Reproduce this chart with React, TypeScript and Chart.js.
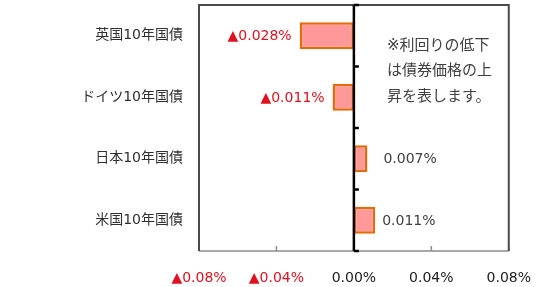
import React, { useEffect, useRef } from "react";
import { Chart, registerables } from "chart.js";

Chart.register(...registerables);

const categories = ["英国10年国債", "ドイツ10年国債", "日本10年国債", "米国10年国債"];
const changes = [-0.028, -0.011, 0.007, 0.011];
const xTicks = [-0.08, -0.04, 0, 0.04, 0.08];
const noteLines = ["※利回りの低下", "は債券価格の上", "昇を表します。"];

const FONT = "'DejaVu Sans', 'Noto Sans CJK JP', sans-serif";
const RED = "#e0101e";
const DARK = "#404040";

const fmt = (v: number) => (v < 0 ? "▲" : "") + Math.abs(v).toFixed(3) + "%";
const fmtTick = (v: number) => (v < -1e-9 ? "▲" : "") + Math.abs(v).toFixed(2) + "%";

const framePlugin = {
  id: "frame",
  beforeDatasetsDraw(chart: any) {
    const { ctx, chartArea: a, scales } = chart;
    const x = scales.x;
    ctx.save();
    ctx.strokeStyle = "#8c8c8c";
    ctx.lineWidth = 1.5;
    ctx.beginPath();
    ctx.moveTo(a.left, a.bottom);
    ctx.lineTo(a.right, a.bottom);
    xTicks.forEach((t) => {
      const px = x.getPixelForValue(t);
      ctx.moveTo(px, a.bottom);
      ctx.lineTo(px, a.bottom - 5);
    });
    ctx.stroke();
    ctx.strokeStyle = "#4a4a4a";
    ctx.lineWidth = 2;
    ctx.beginPath();
    ctx.moveTo(a.left, a.bottom);
    ctx.lineTo(a.left, a.top);
    ctx.lineTo(a.right, a.top);
    ctx.lineTo(a.right, a.bottom);
    ctx.stroke();
    ctx.restore();
  },
  afterDatasetsDraw(chart: any) {
    const { ctx, chartArea: a, scales } = chart;
    const x = scales.x;
    const zx = x.getPixelForValue(0);
    ctx.save();
    ctx.strokeStyle = "#000000";
    ctx.lineWidth = 2.5;
    ctx.beginPath();
    ctx.moveTo(zx, a.top);
    ctx.lineTo(zx, a.bottom);
    const n = categories.length;
    for (let i = 0; i <= n; i++) {
      const py = a.top + ((a.bottom - a.top) * i) / n;
      ctx.moveTo(zx, py);
      ctx.lineTo(zx + 5, py);
    }
    ctx.stroke();

    const meta = chart.getDatasetMeta(0);
    ctx.font = "14px " + FONT;
    ctx.textBaseline = "middle";
    const posGap = [8, 8, 16, 7];
    meta.data.forEach((bar: any, i: number) => {
      const v = changes[i];
      const ex = x.getPixelForValue(v);
      if (v < 0) {
        ctx.fillStyle = RED;
        ctx.textAlign = "right";
        ctx.fillText(fmt(v), ex - 8, bar.y + 1);
      } else {
        ctx.fillStyle = DARK;
        ctx.textAlign = "left";
        ctx.fillText(fmt(v), ex + posGap[i], bar.y + 1);
      }
    });

    ctx.fillStyle = DARK;
    ctx.textAlign = "left";
    ctx.font = "15px " + FONT;
    noteLines.forEach((line, i) => {
      ctx.fillText(line, zx + 33, a.top + 41 + i * 25.5);
    });
    ctx.restore();
  },
};

export default function App() {
  const ref = useRef<HTMLCanvasElement | null>(null);
  useEffect(() => {
    if (!ref.current) return;
    const chart = new Chart(ref.current, {
      type: "bar",
      data: {
        labels: categories,
        datasets: [
          {
            data: changes,
            backgroundColor: "#ff9999",
            borderColor: "#e36c0a",
            borderWidth: 2.5,
            borderSkipped: false,
            categoryPercentage: 1,
            barPercentage: 0.44,
          },
        ],
      },
      options: {
        indexAxis: "y",
        animation: false,
        responsive: false,
        maintainAspectRatio: false,
        layout: { padding: { top: 5, right: 38, left: 0, bottom: 0 } },
        plugins: {
          legend: { display: false },
          tooltip: { enabled: false },
        },
        scales: {
          x: {
            min: -0.08,
            max: 0.08,
            afterBuildTicks(scale: any) {
              scale.ticks = xTicks.map((v) => ({ value: v }));
            },
            afterFit(scale: any) {
              scale.height = 36;
            },
            grid: { display: false, drawTicks: false },
            border: { display: false },
            ticks: {
              padding: 19,
              maxRotation: 0,
              autoSkip: false,
              font: { size: 14, family: FONT },
              color: (c: any) => (c.tick && c.tick.value < -1e-9 ? RED : "#202020"),
              callback: (v: any) => fmtTick(Number(v)),
            },
          },
          y: {
            afterFit(scale: any) {
              scale.width = 199;
              scale.paddingTop = 0;
              scale.paddingBottom = 0;
            },
            grid: { display: false, drawTicks: false },
            border: { display: false },
            ticks: {
              padding: 16,
              font: { size: 14, family: FONT },
              color: "#303030",
            },
          },
        },
      },
      plugins: [framePlugin],
    });
    return () => chart.destroy();
  }, []);
  return (
    <div style={{ position: "fixed", left: 0, top: 0, width: 550, height: 287, background: "#fff" }}>
      <canvas ref={ref} width={550} height={287} style={{ display: "block" }} />
    </div>
  );
}
